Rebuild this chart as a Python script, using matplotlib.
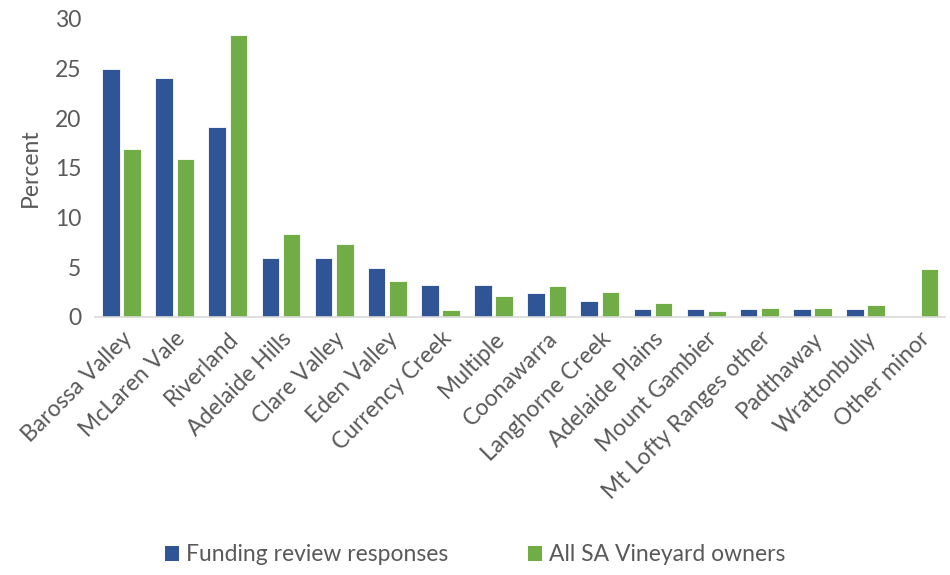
import numpy as np
import matplotlib
matplotlib.use("Agg")
import matplotlib.pyplot as plt
from matplotlib.patches import Patch

# ─── Data ─────────────────────────────────────────────────────────────────────
regions = [
    "Barossa Valley", "McLaren Vale", "Riverland", "Adelaide Hills",
    "Clare Valley", "Eden Valley", "Currency Creek", "Multiple",
    "Coonawarra", "Langhorne Creek", "Adelaide Plains", "Mount Gambier",
    "Mt Lofty Ranges other", "Padthaway", "Wrattonbully", "Other minor",
]
funding_review = [25.0, 24.1, 19.1, 5.9, 5.9, 4.9, 3.2, 3.2,
                  2.4, 1.6, 0.8, 0.8, 0.8, 0.8, 0.8, 0.0]
all_sa_owners = [16.9, 15.9, 28.4, 8.3, 7.3, 3.6, 0.7, 2.1,
                 3.1, 2.5, 1.4, 0.6, 0.9, 0.9, 1.2, 4.8]
y_ticks = [0, 5, 10, 15, 20, 25, 30]

BLUE = "#2F5597"
GREEN = "#70AD47"
TEXT = "#595959"
FS = 16.5

plt.rcParams["font.family"] = ["Lato", "DejaVu Sans"]

fig = plt.figure(figsize=(9.5, 5.75), dpi=100)
ax = fig.add_axes([0.1, 0.449, 0.895, 0.518])

x = np.arange(len(regions))
w = 0.33
ax.bar(x - 0.2, funding_review, w, color=BLUE, edgecolor="white", linewidth=0.6)
ax.bar(x + 0.2, all_sa_owners, w, color=GREEN, edgecolor="white", linewidth=0.6)

ax.set_xlim(-0.5, len(regions) - 0.5)
ax.set_ylim(0, 30)
ax.set_yticks(y_ticks)
ax.tick_params(axis="y", length=0, labelsize=FS, labelcolor=TEXT, pad=10)
ax.set_xticks(x)
ax.set_xticklabels(regions, rotation=45, ha="right", rotation_mode="anchor",
                   fontsize=FS, color=TEXT)
ax.tick_params(axis="x", length=0, pad=8)

for side in ["top", "right", "left"]:
    ax.spines[side].set_visible(False)
ax.spines["bottom"].set_color("#D9D9D9")
ax.spines["bottom"].set_linewidth(1.2)

ax.set_ylabel("Percent", fontsize=FS, color=TEXT, labelpad=10)

handles = [Patch(facecolor=BLUE, label="Funding review responses"),
           Patch(facecolor=GREEN, label="All SA Vineyard owners")]
fig.legend(handles=handles, loc="center", bbox_to_anchor=(0.5, 0.035), ncol=2,
           frameon=False, fontsize=FS, labelcolor=TEXT, handlelength=0.6,
           handleheight=0.6, handletextpad=0.3, columnspacing=3.5)

plt.savefig("out.png", dpi=100)
plt.close()
